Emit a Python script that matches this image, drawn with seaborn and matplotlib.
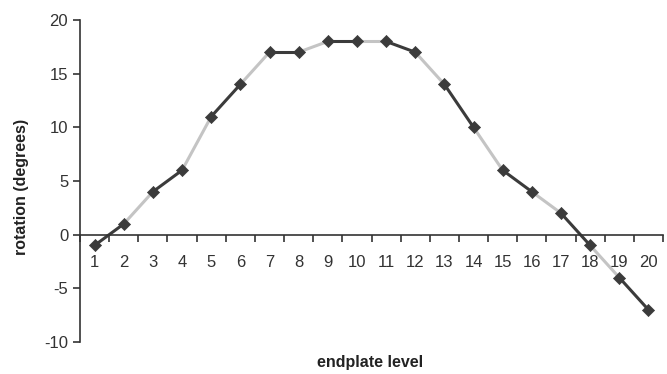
import matplotlib
matplotlib.use("Agg")
import matplotlib.pyplot as plt
import numpy as np
import pandas as pd
import seaborn as sns

# endplate level vs rotation
levels = list(range(1, 21))
rotation = [-1, 1, 4, 6, 11, 14, 17, 17, 18, 18, 18, 17, 14, 10, 6, 4, 2, -1, -4, -7]
y_ticks = [-10, -5, 0, 5, 10, 15, 20]

dark = "#3b3b3b"
light = "#c4c4c4"

sns.set_style("white")
plt.rcParams["font.family"] = ["Liberation Sans", "DejaVu Sans"]
plt.rcParams["axes.unicode_minus"] = False
plt.rcParams["xtick.bottom"] = True
plt.rcParams["ytick.left"] = True

# each segment between neighbouring levels gets its own row pair
rows = []
for i in range(len(levels) - 1):
    for j in (i, i + 1):
        rows.append({"level": levels[j], "rotation": rotation[j], "seg": i})
segs = pd.DataFrame(rows)
pal = {i: (dark if i % 2 == 0 else light) for i in range(len(levels) - 1)}

fig = plt.figure(figsize=(6.67, 3.74), dpi=100)
ax = fig.add_axes([0.12, 0.0856, 0.874, 0.861])

sns.lineplot(data=segs, x="level", y="rotation", hue="seg", palette=pal,
             linewidth=2.2, legend=False, ax=ax, estimator=None, sort=False)
sns.scatterplot(x=levels, y=rotation, marker="D", s=38, color=dark,
                edgecolor=dark, linewidth=0.5, zorder=5, ax=ax)

ax.set_xlim(0.5, 20.5)
ax.set_ylim(-10, 20)
ax.set_yticks(y_ticks)
ax.set_xticks(levels)
ax.set_xticks(np.arange(0.5, 21, 1), minor=True)

ax.spines["top"].set_visible(False)
ax.spines["right"].set_visible(False)
ax.spines["bottom"].set_position(("data", 0))
for s in ("left", "bottom"):
    ax.spines[s].set_color("#333333")
    ax.spines[s].set_linewidth(1.2)

ax.tick_params(axis="x", which="major", length=0, pad=15, labelsize=12,
               colors="#333333", bottom=True)
ax.tick_params(axis="x", which="minor", length=5, width=1.2, direction="out",
               color="#333333", bottom=True)
ax.tick_params(axis="y", length=5, width=1.2, direction="out", labelsize=12,
               colors="#333333", left=True)

ax.set_xlabel("endplate level", fontsize=11.5, fontweight="bold", color="#222222")
ax.set_ylabel("rotation (degrees)", fontsize=11.5, fontweight="bold", color="#222222")
ax.xaxis.set_label_coords(370 / 667, 19 / 374, transform=fig.transFigure)
ax.yaxis.set_label_coords(29 / 667, 0.5, transform=fig.transFigure)

fig.savefig("out.png", dpi=100)
